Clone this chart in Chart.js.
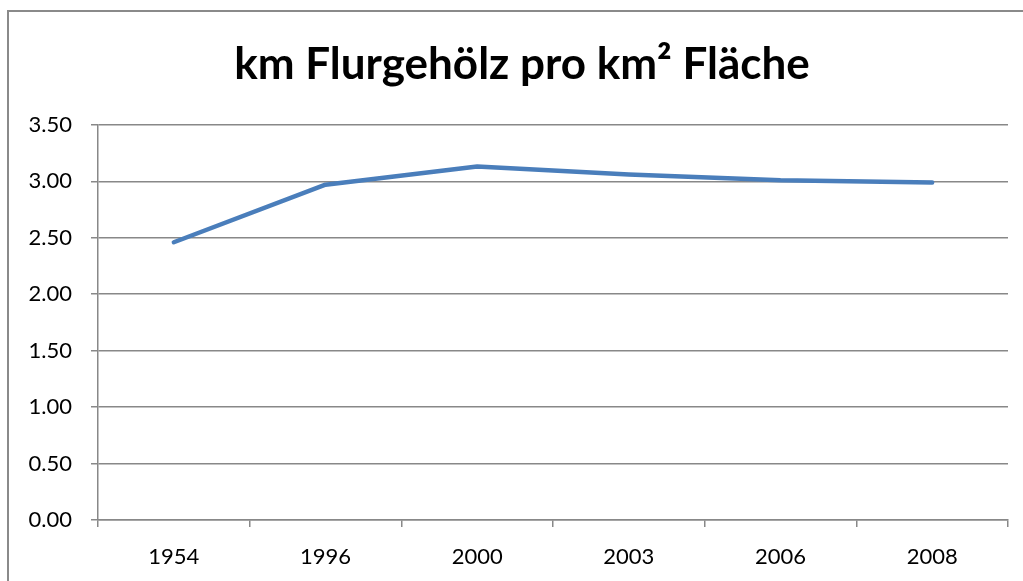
<!DOCTYPE html>
<html>
<head>
<meta charset="utf-8">
<script src="https://cdn.jsdelivr.net/npm/chart.js@4/dist/chart.umd.min.js"></script>
<style>
  html, body { margin: 0; padding: 0; background: #fff; }
  #wrap { position: relative; width: 1023px; height: 581px; }
  #frame {
    position: absolute; left: 7px; top: 10px; right: -5px; bottom: -5px;
    border-left: 2px solid #8a8a8a; border-top: 2px solid #8a8a8a;
  }
  canvas { position: absolute; left: 0; top: 0; }
</style>
</head>
<body>
<div id="wrap">
  <div id="frame"></div>
  <canvas id="chart" width="1023" height="581"></canvas>
</div>
<script>
// Data
const years = ["1954", "1996", "2000", "2003", "2006", "2008"];
const kmPerKm2 = [2.46, 2.97, 3.13, 3.06, 3.01, 2.99];
const titleText = "km Flurgehölz pro km² Fläche";

const gridColor = "#888888";
const fontFamily = "Lato, 'Open Sans', sans-serif";

let ctx = document.getElementById("chart");

// nudge the title box so it centres a little right, like the original
const titleShift = {
  id: 'titleShift',
  afterLayout: (chart) => {
    if (chart.titleBlock) chart.titleBlock.left = 36;
  }
};

const chart = new Chart(ctx, {
  type: 'line',
  data: {
    labels: years,
    datasets: [{
      label: 'km Flurgehölz',
      data: kmPerKm2,
      borderColor: '#4a7ebb',
      borderWidth: 4.5,
      borderCapStyle: 'round',
      borderJoinStyle: 'round',
      pointRadius: 0,
      tension: 0,
      fill: false
    }]
  },
  options: {
    responsive: false,
    animation: false,
    layout: {
      padding: { left: 0, right: 15, top: 0, bottom: 0 }
    },
    plugins: {
      legend: { display: false },
      tooltip: { enabled: false },
      title: {
        display: true,
        text: titleText,
        color: '#000',
        font: { family: fontFamily, size: 44, weight: 'bold' },
        padding: { top: 38, bottom: 34 }
      }
    },
    scales: {
      x: {
        offset: true,
        grid: {
          offset: true,
          drawOnChartArea: false,
          drawTicks: true,
          tickLength: 7,
          color: gridColor,
          lineWidth: 1.5
        },
        border: { color: gridColor, width: 1.5 },
        ticks: {
          color: '#000',
          font: { family: fontFamily, size: 22 },
          padding: 17,
          maxRotation: 0
        },
        afterFit: (scale) => { scale.height = 61; }
      },
      y: {
        min: 0,
        max: 3.5,
        grid: {
          color: gridColor,
          lineWidth: 1.5,
          tickLength: 7
        },
        border: { color: gridColor, width: 1.5 },
        ticks: {
          stepSize: 0.5,
          color: '#000',
          font: { family: fontFamily, size: 22 },
          padding: 19,
          callback: (v) => v.toFixed(2)
        },
        afterFit: (scale) => { scale.width = 98; }
      }
    }
  },
  plugins: [titleShift]
});
</script>
</body>
</html>
